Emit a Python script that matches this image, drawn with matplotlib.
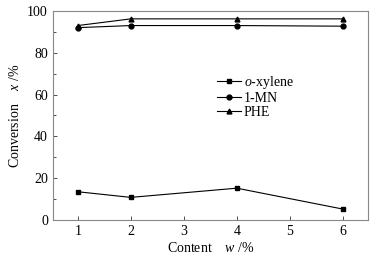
import matplotlib.pyplot as plt

plt.rcParams['font.family'] = ['Liberation Serif', 'DejaVu Serif']
plt.rcParams['mathtext.fontset'] = 'custom'
plt.rcParams['mathtext.it'] = 'Liberation Serif:italic'
plt.rcParams['mathtext.rm'] = 'Liberation Serif'

content = [1, 2, 4, 6]
xylene = [13.5, 10.8, 15.2, 5.2]
mn = [92.0, 93.0, 93.0, 92.7]
phe = [93.0, 96.2, 96.2, 96.2]

fig = plt.figure(figsize=(3.8, 2.6), dpi=100)
ax = fig.add_axes([0.139, 0.154, 0.829, 0.804])

ax.plot(content, xylene, color='black', lw=0.8, marker='s', ms=3.5, label=r'$\mathit{o}$-xylene')
ax.plot(content, mn, color='black', lw=0.8, marker='o', ms=3.5, label='1-MN')
ax.plot(content, phe, color='black', lw=0.8, marker='^', ms=3.5, label='PHE')

ax.set_xlim(0.53, 6.47)
ax.set_ylim(0, 100)
ax.set_xticks([1, 2, 3, 4, 5, 6])
ax.set_yticks([0, 20, 40, 60, 80, 100])
ax.set_yticks(range(10, 100, 20), minor=True)
ax.tick_params(direction='in', labelsize=10, length=3, width=0.6, colors='#333333', labelcolor='black')
ax.tick_params(which='minor', direction='in', length=2, width=0.6, colors='#333333')
for s in ax.spines.values():
    s.set_color('#888888')
    s.set_linewidth(0.8)

ax.set_xlabel(r'Content    $\mathit{w}$ /%', fontsize=10, labelpad=2)
ax.set_ylabel(r'Conversion    $\mathit{x}$ /%', fontsize=10, labelpad=4)

ax.legend(loc='upper left', bbox_to_anchor=(0.50, 0.73), frameon=False, fontsize=10,
          handlelength=1.7, handletextpad=0.2, labelspacing=0.05, borderpad=0)

fig.savefig('out.png', dpi=100)
